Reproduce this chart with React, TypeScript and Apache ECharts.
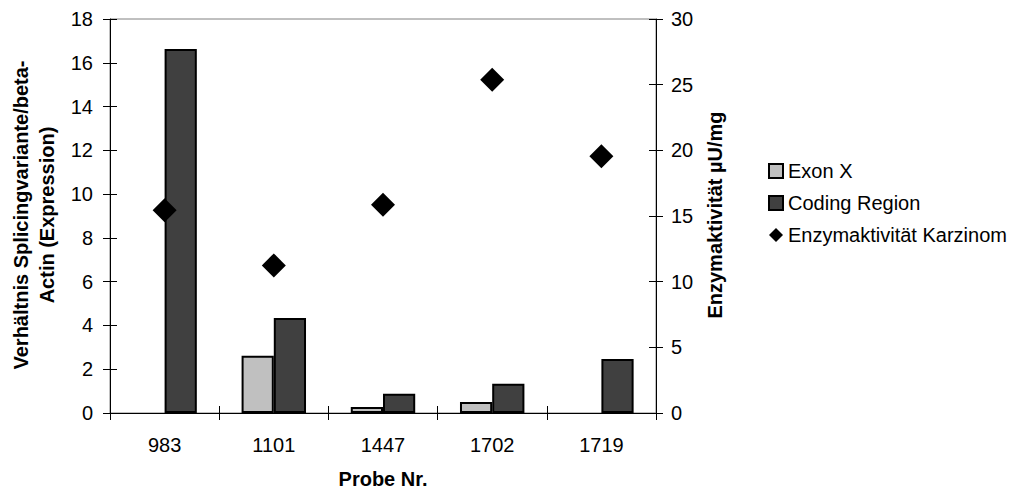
import React, { useEffect, useRef } from "react";
import * as echarts from "echarts";

const categories = ["983", "1101", "1447", "1702", "1719"];
const exonX = [null, 2.62, 0.27, 0.5, null];
const codingRegion = [16.63, 4.34, 0.88, 1.34, 2.47];
const enzymAktivitaet = [15.43, 11.24, 15.86, 25.38, 19.55];
const leftTicks = { min: 0, max: 18, interval: 2 };
const rightTicks = { min: 0, max: 30, interval: 5 };

const FONT = "'Liberation Sans', Arial, sans-serif";

export default function App() {
  const ref = useRef<HTMLDivElement>(null);
  useEffect(() => {
    if (!ref.current) return;
    const chart = echarts.init(ref.current, undefined, { renderer: "svg" });
    const labelStyle = { color: "#000", fontSize: 20, fontFamily: FONT };
    const titleStyle = {
      fontSize: 20,
      fontWeight: "bold",
      fontFamily: FONT,
      fill: "#000",
      align: "center",
      verticalAlign: "middle",
    };
    chart.setOption({
      animation: false,
      backgroundColor: "#fff",
      textStyle: { fontFamily: FONT },
      grid: {
        left: 110,
        right: 357,
        top: 19,
        bottom: 77,
        show: true,
        borderColor: "#808080",
        borderWidth: 1,
        backgroundColor: "transparent",
      },
      legend: {
        orient: "vertical",
        left: 768,
        top: 161,
        padding: 0,
        itemWidth: 14,
        itemHeight: 14,
        itemGap: 12,
        textStyle: { color: "#000", fontSize: 20, fontFamily: FONT },
        data: [
          { name: "Exon X", icon: "rect" },
          { name: "Coding Region", icon: "rect" },
          { name: "Enzymaktivität Karzinom", icon: "diamond" },
        ],
      },
      xAxis: [
        {
          type: "category",
          data: categories,
          position: "bottom",
          axisLine: { show: true, lineStyle: { color: "#000", width: 1 } },
          axisTick: { show: true, inside: false, length: 7, lineStyle: { color: "#000" } },
          axisLabel: { ...labelStyle, margin: 22 },
          splitLine: { show: false },
        },
        {
          type: "category",
          data: categories,
          position: "bottom",
          axisLine: { show: false },
          axisTick: { show: true, inside: true, length: 7, lineStyle: { color: "#000" } },
          axisLabel: { show: false },
          splitLine: { show: false },
        },
      ],
      yAxis: [
        {
          type: "value",
          position: "left",
          ...leftTicks,
          axisLine: { show: true, lineStyle: { color: "#000", width: 1 } },
          axisTick: { show: true, inside: false, length: 7, lineStyle: { color: "#000" } },
          axisLabel: { ...labelStyle, margin: 17 },
          splitLine: { show: false },
        },
        {
          type: "value",
          position: "right",
          ...rightTicks,
          axisLine: { show: true, lineStyle: { color: "#000", width: 1 } },
          axisTick: { show: true, inside: false, length: 7, lineStyle: { color: "#000" } },
          axisLabel: { ...labelStyle, margin: 15 },
          splitLine: { show: false },
        },
        {
          type: "value",
          position: "left",
          ...leftTicks,
          axisLine: { show: false },
          axisTick: { show: true, inside: true, length: 7, lineStyle: { color: "#000" } },
          axisLabel: { show: false },
          splitLine: { show: false },
        },
        {
          type: "value",
          position: "right",
          ...rightTicks,
          axisLine: { show: false },
          axisTick: { show: true, inside: true, length: 7, lineStyle: { color: "#000" } },
          axisLabel: { show: false },
          splitLine: { show: false },
        },
      ],
      graphic: [
        {
          type: "text",
          x: 21,
          y: 215,
          rotation: Math.PI / 2,
          style: { ...titleStyle, text: "Verhältnis Splicingvariante/beta-" },
        },
        {
          type: "text",
          x: 47,
          y: 215,
          rotation: Math.PI / 2,
          style: { ...titleStyle, text: "Actin (Expression)" },
        },
        {
          type: "text",
          x: 715,
          y: 215,
          rotation: Math.PI / 2,
          style: { ...titleStyle, text: "Enzymaktivität µU/mg" },
        },
        {
          type: "text",
          x: 383,
          y: 479,
          style: { ...titleStyle, text: "Probe Nr." },
        },
      ],
      series: [
        {
          name: "Exon X",
          type: "bar",
          xAxisIndex: 0,
          yAxisIndex: 0,
          data: exonX,
          barGap: "0%",
          barCategoryGap: "41%",
          itemStyle: { color: "#c0c0c0", borderColor: "#000", borderWidth: 2 },
        },
        {
          name: "Coding Region",
          type: "bar",
          xAxisIndex: 0,
          yAxisIndex: 0,
          data: codingRegion,
          barGap: "0%",
          barCategoryGap: "41%",
          itemStyle: { color: "#404040", borderColor: "#000", borderWidth: 2 },
        },
        {
          name: "Enzymaktivität Karzinom",
          type: "scatter",
          xAxisIndex: 0,
          yAxisIndex: 1,
          data: enzymAktivitaet,
          symbol: "diamond",
          symbolSize: 24,
          itemStyle: { color: "#000", opacity: 1 },
          z: 5,
        },
      ],
    });
    return () => chart.dispose();
  }, []);
  return (
    <div
      ref={ref}
      style={{ position: "fixed", left: 0, top: 0, width: 1013, height: 490, background: "#fff" }}
    />
  );
}
